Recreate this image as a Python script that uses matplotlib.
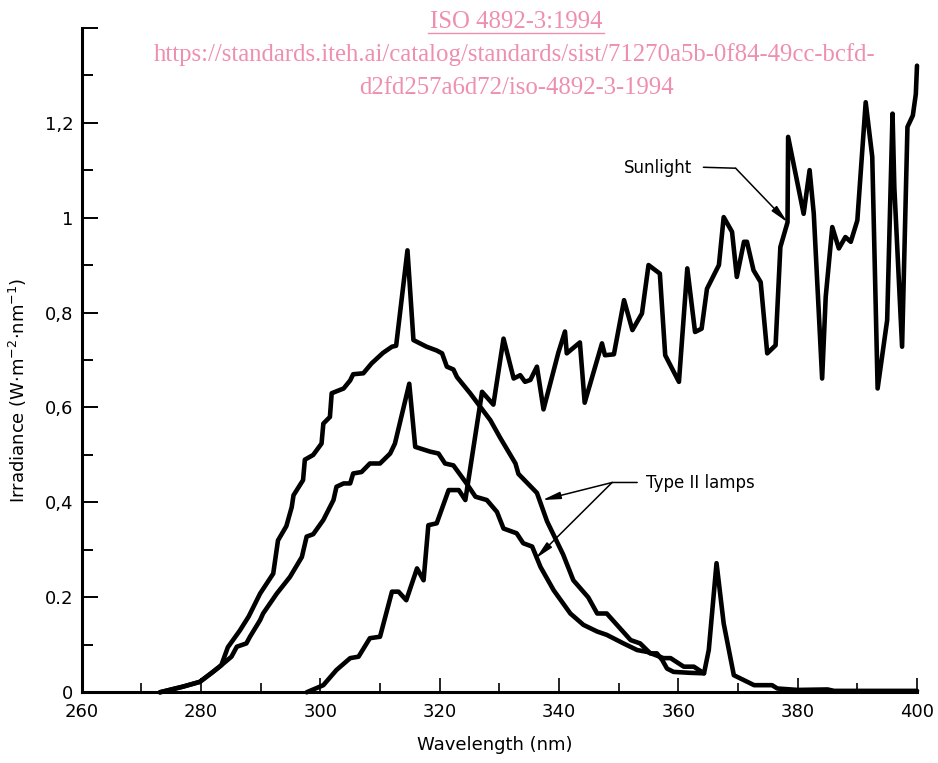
import matplotlib
matplotlib.use("Agg")
import matplotlib.pyplot as plt
from matplotlib.ticker import FixedLocator, FixedFormatter

# ---------------- data ----------------
sun_wl = [297.7, 300.5, 302.7, 305.0, 306.4, 308.3, 310.0, 312.0, 313.1, 314.4,
          316.2, 317.3, 318.1, 319.5, 321.5, 323.2, 324.3, 327.1, 329.0, 330.7,
          332.4, 333.5, 334.3, 335.2, 336.3, 337.4, 339.9, 341.0, 341.3, 343.5,
          344.3, 347.2, 347.7, 349.2, 350.9, 352.3, 353.9, 355.0, 356.9, 357.8,
          360.1, 361.5, 362.8, 363.9, 364.8, 366.8, 367.6, 369.0, 369.8, 371.0,
          371.5, 372.6, 373.8, 374.9, 376.3, 377.1, 378.3, 378.4, 381.0, 382.0,
          382.7, 384.1, 384.7, 385.8, 386.9, 388.0, 388.9, 390.0, 391.4, 392.5,
          393.4, 395.0, 395.9, 396.2, 397.5, 398.4, 399.3, 399.8, 400.0]
sun_val = [0.0, 0.015, 0.047, 0.072, 0.075, 0.114, 0.117, 0.212, 0.212, 0.194,
           0.261, 0.236, 0.352, 0.356, 0.426, 0.426, 0.405, 0.633, 0.606, 0.745,
           0.661, 0.668, 0.654, 0.658, 0.686, 0.596, 0.716, 0.760, 0.714, 0.737,
           0.610, 0.735, 0.710, 0.712, 0.826, 0.763, 0.798, 0.900, 0.882, 0.710,
           0.654, 0.893, 0.759, 0.766, 0.850, 0.900, 1.001, 0.970, 0.875, 0.949,
           0.949, 0.889, 0.864, 0.714, 0.731, 0.938, 0.990, 1.170, 1.008, 1.100,
           1.008, 0.661, 0.833, 0.980, 0.935, 0.959, 0.949, 0.994, 1.243, 1.128,
           0.640, 0.784, 1.219, 1.064, 0.728, 1.191, 1.215, 1.260, 1.320]

lampA_wl = [273.1, 277.0, 279.8, 282.0, 283.4, 284.5, 286.5, 288.0, 289.9, 292.1,
            292.9, 294.3, 295.2, 295.5, 297.1, 297.4, 298.8, 300.2, 300.5, 301.6,
            301.9, 303.9, 305.0, 305.5, 307.2, 308.6, 310.5, 312.0, 312.7, 314.6,
            315.6, 317.8, 319.5, 320.4, 321.2, 322.3, 322.9, 325.1, 328.5, 330.1,
            332.7, 333.2, 336.3, 338.0, 340.7, 342.4, 344.9, 346.4, 348.0, 350.0,
            352.0, 353.6, 355.3, 356.4, 357.3, 358.1, 359.2, 362.0, 364.3, 365.1,
            366.4, 367.6, 369.3, 372.7, 375.7, 376.6, 380.0, 385.0, 386.1, 400.0]
lampA_val = [0.0, 0.012, 0.022, 0.043, 0.057, 0.095, 0.130, 0.160, 0.208, 0.250,
             0.320, 0.350, 0.390, 0.415, 0.447, 0.490, 0.500, 0.524, 0.566, 0.580,
             0.630, 0.640, 0.657, 0.670, 0.672, 0.693, 0.715, 0.728, 0.730, 0.931,
             0.742, 0.728, 0.720, 0.714, 0.686, 0.680, 0.664, 0.630, 0.573, 0.537,
             0.482, 0.460, 0.420, 0.360, 0.290, 0.236, 0.200, 0.166, 0.166, 0.138,
             0.110, 0.103, 0.082, 0.082, 0.068, 0.050, 0.043, 0.041, 0.040, 0.089,
             0.272, 0.145, 0.036, 0.015, 0.015, 0.008, 0.005, 0.006, 0.003, 0.003]

lampB_wl = [273.1, 277.0, 279.8, 282.0, 283.4, 285.1, 286.0, 287.6, 288.2, 289.9,
            290.4, 292.7, 294.9, 296.9, 297.7, 298.8, 300.5, 302.2, 302.7, 303.9,
            305.0, 305.5, 306.9, 308.3, 310.0, 311.7, 312.5, 314.9, 315.9, 318.4,
            319.8, 320.9, 322.3, 324.5, 326.0, 327.9, 329.6, 330.7, 332.9, 334.0,
            335.5, 336.9, 339.1, 341.9, 344.1, 346.4, 348.0, 350.8, 353.1, 354.8,
            357.5, 358.7, 360.9, 362.6, 364.3]
lampB_val = [0.0, 0.012, 0.022, 0.043, 0.057, 0.075, 0.096, 0.103, 0.117, 0.152,
             0.166, 0.208, 0.243, 0.285, 0.328, 0.333, 0.363, 0.405, 0.433, 0.440,
             0.440, 0.461, 0.464, 0.482, 0.482, 0.503, 0.524, 0.650, 0.517, 0.507,
             0.503, 0.482, 0.478, 0.440, 0.412, 0.405, 0.380, 0.345, 0.335, 0.314,
             0.307, 0.264, 0.215, 0.166, 0.142, 0.128, 0.121, 0.103, 0.089, 0.085,
             0.072, 0.072, 0.054, 0.054, 0.040]

x_major = [260, 280, 300, 320, 340, 360, 380, 400]
x_minor = [270, 290, 310, 330, 350, 370, 390]
y_major = [0.0, 0.2, 0.4, 0.6, 0.8, 1.0, 1.2, 1.4]
y_major_labels = ["0", "0.2", "0,4", "0,6", "0,8", "1", "1,2", ""]
y_minor = [0.1, 0.3, 0.5, 0.7, 0.9, 1.1, 1.3]

# ---------------- figure ----------------
W, H = 938, 763
fig = plt.figure(figsize=(W / 100, H / 100), dpi=100)
ax = fig.add_axes([81.7 / W, (H - 692.3) / H, 835.3 / W, 664.6 / H])

lw = 3.3
for xs, ys in [(lampA_wl, lampA_val), (lampB_wl, lampB_val), (sun_wl, sun_val)]:
    ax.plot(xs, ys, color="black", lw=lw, solid_joinstyle="round",
            solid_capstyle="round", clip_on=False)

ax.set_xlim(260, 400)
ax.set_ylim(0, 1.4)
for s in ["top", "right"]:
    ax.spines[s].set_visible(False)
for s in ["left", "bottom"]:
    ax.spines[s].set_linewidth(2.2)

ax.xaxis.set_major_locator(FixedLocator(x_major))
ax.xaxis.set_minor_locator(FixedLocator(x_minor))
ax.set_xticklabels([str(v) for v in x_major])
ax.yaxis.set_major_locator(FixedLocator(y_major))
ax.yaxis.set_major_formatter(FixedFormatter(y_major_labels))
ax.yaxis.set_minor_locator(FixedLocator(y_minor))

ax.tick_params(axis="x", which="major", direction="in", length=10, width=1.2,
               labelsize=13, pad=8)
ax.tick_params(axis="x", which="minor", direction="in", length=6.5, width=1.2)
ax.tick_params(axis="y", which="major", direction="in", length=11.5, width=1.4,
               labelsize=13, pad=6)
ax.tick_params(axis="y", which="minor", direction="in", length=8, width=1.4)

fig.text(495 / W, 1 - 745 / H, "Wavelength (nm)", ha="center", va="center",
         fontsize=13)
fig.text(18 / W, 1 - 390 / H,
         r"Irradiance (W$\cdot$m$^{-2}$$\cdot$nm$^{-1}$)",
         rotation=90, ha="center", va="center", fontsize=13)

# annotations
ax.text(362.3, 1.105, "Sunlight", ha="right", va="center", fontsize=12)
ax.annotate("", xy=(369.6, 1.104), xytext=(364.2, 1.106),
            arrowprops=dict(arrowstyle="-", lw=1.1, color="black",
                            shrinkA=0, shrinkB=0))
ax.annotate("", xy=(378.3, 0.99), xytext=(369.6, 1.104),
            arrowprops=dict(arrowstyle="-|>,head_length=0.9,head_width=0.18",
                            lw=1.1, color="black", shrinkA=0, shrinkB=0,
                            mutation_scale=12))

ax.text(354.5, 0.441, "Type II lamps", ha="left", va="center", fontsize=12)
ax.annotate("", xy=(348.9, 0.442), xytext=(353.1, 0.442),
            arrowprops=dict(arrowstyle="-", lw=1.1, color="black",
                            shrinkA=0, shrinkB=0))
for tip in [(337.2, 0.405), (336.1, 0.282)]:
    ax.annotate("", xy=tip, xytext=(348.9, 0.442),
                arrowprops=dict(arrowstyle="-|>,head_length=0.9,head_width=0.18",
                                lw=1.1, color="black", shrinkA=0, shrinkB=0,
                                mutation_scale=12))

# watermark
pink = "#ef8fb0"
wm_font = "Liberation Serif"
wm_size = 17.8
fig.text(516 / W, 1 - 22 / H, "ISO 4892-3:1994", ha="center", va="center",
         fontsize=wm_size, color=pink, family=wm_font)
fig.add_artist(plt.Line2D([428 / W, 604 / W], [1 - 33 / H, 1 - 33 / H],
                          color=pink, lw=1.0, transform=fig.transFigure))
fig.text(515 / W, 1 - 55 / H,
         "https://standards.iteh.ai/catalog/standards/sist/71270a5b-0f84-49cc-bcfd-",
         ha="center", va="center", fontsize=wm_size, color=pink, family=wm_font)
fig.text(516 / W, 1 - 88 / H, "d2fd257a6d72/iso-4892-3-1994", ha="center",
         va="center", fontsize=wm_size, color=pink, family=wm_font)

fig.savefig("out.png", dpi=100)
